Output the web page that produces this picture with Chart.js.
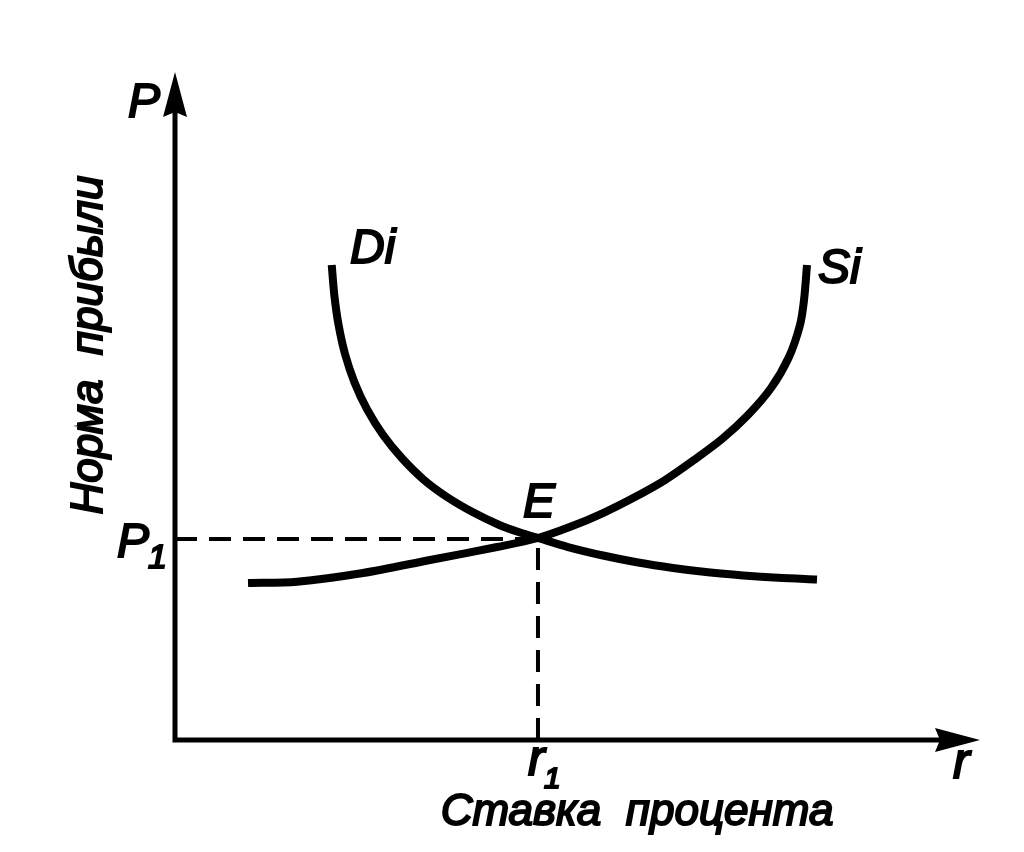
<!DOCTYPE html>
<html>
<head>
<meta charset="utf-8">
<script src="https://cdn.jsdelivr.net/npm/chart.js@4.4.1/dist/chart.umd.min.js"></script>
<style>
  html, body { margin: 0; padding: 0; background: #fff; }
  #wrap { width: 1024px; height: 852px; }
</style>
</head>
<body>
<div id="wrap"><canvas id="chart" width="1024" height="852"></canvas></div>
<script>
// investment demand (Di) and savings supply (Si)
const diX = [19.47, 19.79, 20.31, 21.12, 22.30, 23.88, 25.85, 28.20, 30.86, 33.79, 36.96, 40.29, 42.86, 45.09,
             48.82, 53.17, 57.52, 61.86, 66.21, 70.56, 74.91, 79.75];
const diY = [71.11, 66.62, 62.19, 57.78, 53.53, 49.46, 45.66, 42.17, 39.01, 36.38, 34.13, 32.19, 31.06, 30.24,
             28.89, 27.62, 26.57, 25.75, 25.10, 24.63, 24.28, 24.03];
const siX = [9.07, 15.16, 23.35, 31.68, 40.0, 45.09, 49.19, 53.17, 57.14, 60.87, 64.47, 67.95, 71.18, 74.04,
             76.27, 77.64, 78.14, 78.51];
const siY = [23.50, 23.70, 25.00, 26.95, 28.89, 30.24, 31.95, 33.98, 36.38, 38.92, 41.92, 45.06, 48.65, 52.69,
             57.34, 62.13, 65.87, 71.11];
// equilibrium E = (r1, P1)
const eqX = [45.09];
const eqY = [30.1];

const toPoints = (xs, ys) => xs.map((v, i) => ({ x: v, y: ys[i] }));

const FONT = '"Liberation Sans", Arial, sans-serif';

function label(ctx, text, x, y, size) {
  ctx.font = 'italic ' + size + 'px ' + FONT;
  ctx.fillText(text, x, y);
  ctx.lineWidth = 2;
  ctx.strokeText(text, x, y);
}

// axes with arrows and all the text
const sketch = {
  id: 'sketch',
  afterDatasetsDraw(chart) {
    const { ctx, scales: { x, y } } = chart;
    const x0 = x.getPixelForValue(0), y0 = y.getPixelForValue(0);
    const xEnd = x.getPixelForValue(x.max), yEnd = y.getPixelForValue(y.max);
    ctx.save();
    ctx.fillStyle = '#000';
    ctx.strokeStyle = '#000';
    ctx.lineWidth = 5;
    ctx.beginPath();
    ctx.moveTo(x0, yEnd + 30);
    ctx.lineTo(x0, y0);
    ctx.lineTo(xEnd - 30, y0);
    ctx.stroke();

    ctx.beginPath();
    ctx.moveTo(x0, yEnd);
    ctx.lineTo(x0 - 12, yEnd + 45);
    ctx.lineTo(x0, yEnd + 40);
    ctx.lineTo(x0 + 12, yEnd + 45);
    ctx.closePath();
    ctx.fill();

    ctx.beginPath();
    ctx.moveTo(xEnd, y0);
    ctx.lineTo(xEnd - 45, y0 - 12);
    ctx.lineTo(xEnd - 40, y0);
    ctx.lineTo(xEnd - 45, y0 + 12);
    ctx.closePath();
    ctx.fill();

    ctx.textBaseline = 'alphabetic';
    ctx.textAlign = 'left';
    label(ctx, 'P', 128, 117, 48);
    label(ctx, 'P', 117, 557, 48);
    label(ctx, '1', 148, 568, 34);
    label(ctx, 'E', 523, 517, 48);
    label(ctx, 'r', 528, 775, 50);
    label(ctx, '1', 544, 788, 30);
    label(ctx, 'r', 953, 778, 50);
    label(ctx, 'Di', 350, 263, 48);
    label(ctx, 'Si', 818, 283, 48);
    ctx.textAlign = 'center';
    label(ctx, 'Ставка  процента', 637, 825, 44);

    ctx.save();
    ctx.translate(102, 345);
    ctx.rotate(-Math.PI / 2);
    label(ctx, 'Норма  прибыли', 0, 0, 44);
    ctx.restore();
    ctx.restore();
  }
};

const curve = {
  showLine: true,
  borderColor: '#000',
  borderWidth: 8,
  pointRadius: 0,
  tension: 0.3,
  fill: false
};
const dashed = {
  showLine: true,
  borderColor: '#000',
  borderWidth: 4,
  borderDash: [22, 12],
  pointRadius: 0,
  tension: 0,
  fill: false
};

new Chart(document.getElementById('chart'), {
  type: 'scatter',
  data: {
    datasets: [
      { ...dashed, label: 'P1', data: [{ x: 0, y: eqY[0] }, { x: eqX[0], y: eqY[0] }] },
      { ...dashed, label: 'r1', data: [{ x: eqX[0], y: 0 }, { x: eqX[0], y: eqY[0] }] },
      { ...curve, label: 'Di', data: toPoints(diX, diY) },
      { ...curve, label: 'Si', data: toPoints(siX, siY) }
    ]
  },
  options: {
    responsive: false,
    animation: false,
    layout: { padding: { left: 175, top: 72, right: 44, bottom: 112 } },
    plugins: { legend: { display: false }, tooltip: { enabled: false } },
    scales: {
      x: { type: 'linear', min: 0, max: 100, display: false },
      y: { type: 'linear', min: 0, max: 100, display: false }
    }
  },
  plugins: [sketch]
});
</script>
</body>
</html>
